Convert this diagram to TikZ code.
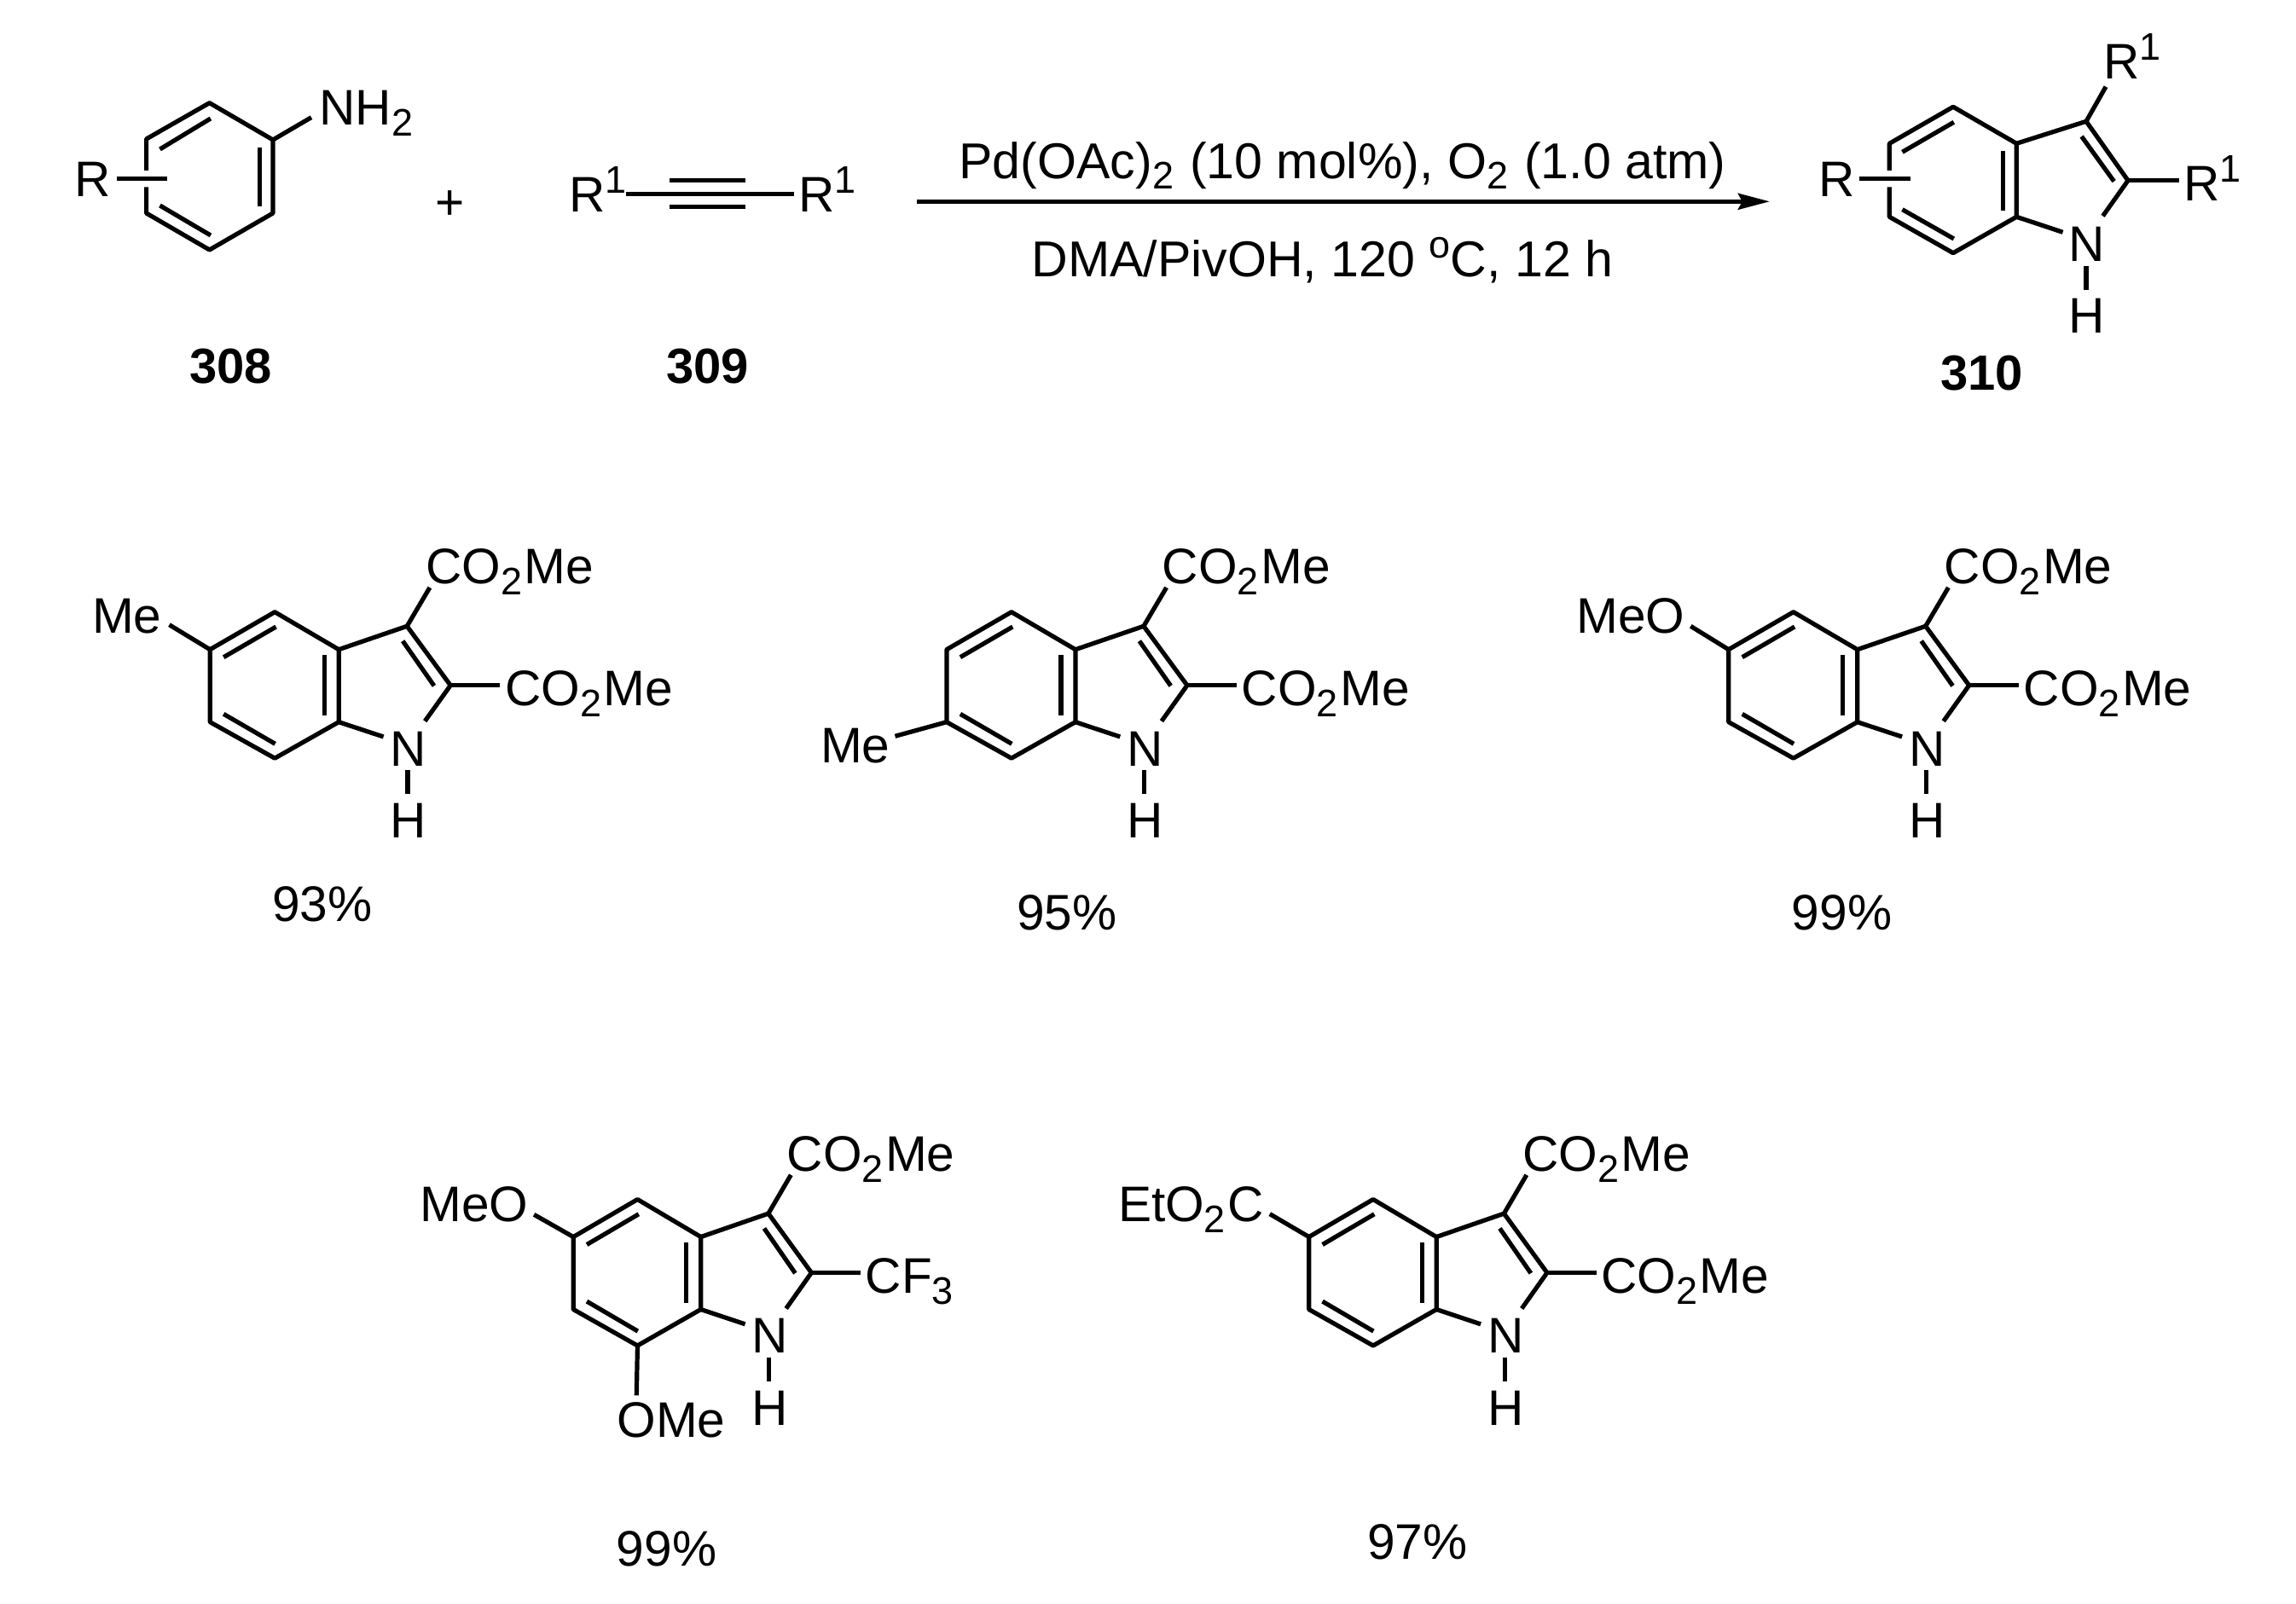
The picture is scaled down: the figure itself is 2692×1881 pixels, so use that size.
\documentclass[tikz,border=0pt]{standalone}
\usepackage{fontspec}
\setmainfont[Kerning=Off]{Liberation Sans}
\usetikzlibrary{arrows.meta}
\newcommand{\sbs}[1]{\raisebox{-13pt}{\fontsize{45}{45}\selectfont #1}\kern2.5pt\relax}
\newcommand{\sps}[1]{\raisebox{21.7pt}{\fontsize{45}{45}\selectfont #1}}
\newcommand{\cotwo}{CO\sbs{2}Me}
\tikzset{
  bond/.style={line width=5.2pt,line join=round,line cap=butt,black},
  lab/.style={inner sep=0pt,outer sep=0pt,anchor=base west,font=\fontsize{58.6}{70}\selectfont,text=black},
  condlab/.style={inner sep=0pt,outer sep=0pt,anchor=base west,font=\fontsize{59.1}{70}\selectfont,text=black},
  cmpd/.style={inner sep=0pt,outer sep=0pt,anchor=base,font=\fontsize{58}{70}\selectfont\bfseries,text=black},
  yield/.style={inner sep=0pt,outer sep=0pt,anchor=base,font=\fontsize{58.6}{70}\selectfont,text=black}
}
% #1 prefix, #2 dx, #3 dy, #4 xscale, #5 yscale, #6 group at C2
\newcommand{\indole}[6]{%
\begin{scope}[name prefix=#1-,shift={(#2,#3)},xscale=#4,yscale=#5]
  \coordinate (C3a) at (0,0);
  \coordinate (C7a) at (0,85);
  \coordinate (C4) at (-75,-44);
  \coordinate (C5) at (-151,0);
  \coordinate (C6) at (-151,85);
  \coordinate (C7) at (-75,127.5);
  \coordinate (C3) at (80,-27.4);
  \coordinate (C2) at (131,42);
  \coordinate (Na) at (52.4,102.3);
  \coordinate (Nb) at (101,84);
  \coordinate (Hu) at (80.8,141.3);
  \coordinate (Hd) at (80.8,169.3);
  \coordinate (E3) at (106.7,-72.7);
  \coordinate (E2) at (189.2,42);
  \coordinate (i1a) at (-135,9);   \coordinate (i1b) at (-73.6,-26.7);
  \coordinate (i2a) at (-17,6.6);  \coordinate (i2b) at (-17,77.6);
  \coordinate (i3a) at (-135,75.6);\coordinate (i3b) at (-74.6,110.6);
  \coordinate (i4a) at (75,-10);   \coordinate (i4b) at (111.8,42.6);
  \node[lab] (N) at (60.6,136.3) {N};
  \node[lab] (H) at (60.6,220.6) {H};
  \node[lab] (G3) at (102,-77.4) {\cotwo};
  \node[lab] (G2) at (195,66) {#6};
  \draw[bond] (C3a)--(C4)--(C5)--(C6)--(C7)--(C7a)--cycle;
  \draw[bond] (C3a)--(C3)--(C2)--(Nb);
  \draw[bond] (C7a)--(Na);
  \draw[bond] (Hu)--(Hd);
  \draw[bond] (C3)--(E3);
  \draw[bond] (C2)--(E2);
  \draw[bond] (i1a)--(i1b);
  \draw[bond] (i2a)--(i2b);
  \draw[bond] (i3a)--(i3b);
  \draw[bond] (i4a)--(i4b);
\end{scope}}
\begin{document}
\begin{tikzpicture}[x=1pt,y=-1pt]
\fill[white] (0,0) rectangle (2692,1881);
\useasboundingbox (0,0) rectangle (2692,1881);

% aniline 308
\coordinate (a1) at (245.6,120.7);
\coordinate (a2) at (320,164);
\coordinate (a3) at (320,250);
\coordinate (a4) at (245.6,293);
\coordinate (a5) at (171.6,250);
\coordinate (a6) at (171.6,163);
\coordinate (a5g) at (171.6,219.3);
\coordinate (a6g) at (171.6,200);
\coordinate (aNe) at (365,137.7);
\coordinate (aRa) at (136.5,209.3);
\coordinate (aRb) at (196,209.3);
\coordinate (ai1a) at (187.5,175);  \coordinate (ai1b) at (246.9,139);
\coordinate (ai2a) at (304.3,172.7);\coordinate (ai2b) at (304.3,242.3);
\coordinate (ai3a) at (187.5,241);  \coordinate (ai3b) at (247,276);
\draw[bond] (a6g)--(a6)--(a1)--(a2)--(a3)--(a4)--(a5)--(a5g);
\draw[bond] (a2)--(aNe);
\draw[bond] (aRa)--(aRb);
\draw[bond] (ai1a)--(ai1b);
\draw[bond] (ai2a)--(ai2b);
\draw[bond] (ai3a)--(ai3b);
\node[lab] (aNH) at (374.5,146.7) {NH\sbs{2}};
\node[lab] (aR) at (87.4,230) {R};
\node[cmpd] (c308) at (270.5,449) {308};
\node[yield] (plus) at (527.5,257) {+};

% alkyne 309
\node[lab] (bRl) at (667.4,248.3) {R\sps{1}};
\node[lab] (bRr) at (936.1,248.3) {R\sps{1}};
\coordinate (b1) at (733.5,227.3);
\coordinate (b2) at (931,227.3);
\coordinate (bu1) at (784.5,211.7);
\coordinate (bu2) at (873.8,211.7);
\coordinate (bd1) at (784.5,242.3);
\coordinate (bd2) at (873.8,242.3);
\draw[bond] (b1)--(b2);
\draw[bond] (bu1)--(bu2);
\draw[bond] (bd1)--(bd2);
\node[cmpd] (c309) at (829.5,449) {309};

% reaction arrow
\coordinate (ars) at (1075.4,236.3);
\coordinate (are) at (2074.8,236.3);
\draw[line width=4.7pt,black,-{Stealth[length=37pt,width=19pt,inset=5pt]}] (ars)--(are);
\node[condlab] (cond1) at (1124.5,209) {Pd(OAc)\sbs{2} (10 mol\%), O\sbs{2} (1.0 atm)};
\node[condlab] (cond2) at (1209.4,324.3) {DMA/PivOH, 120 \sps{o}C, 12 h};

% product 310
\coordinate (p4) at (2290,125.3);
\coordinate (p5) at (2215.3,168.3);
\coordinate (p6) at (2215.3,254.3);
\coordinate (p7) at (2290,296.7);
\coordinate (p7a) at (2364.3,254.3);
\coordinate (p3a) at (2364.3,168.3);
\coordinate (p3) at (2446,142.3);
\coordinate (p2) at (2495,211.7);
\coordinate (p3e) at (2469,101.7);
\coordinate (p2e) at (2555.3,211.7);
\coordinate (pNa) at (2418.6,272.3);
\coordinate (pNb) at (2465.5,253.3);
\coordinate (pHu) at (2446,312.3);
\coordinate (pHd) at (2446,340);
\coordinate (pg1) at (2215.3,200);
\coordinate (pg2) at (2215.3,219.3);
\coordinate (pRa) at (2179.8,209.3);
\coordinate (pRb) at (2239.8,209.3);
\coordinate (pi1a) at (2230.4,178.3);\coordinate (pi1b) at (2290.8,143.3);
\coordinate (pi2a) at (2348.8,176.7);\coordinate (pi2b) at (2348.8,246.7);
\coordinate (pi3a) at (2230.4,245.7);\coordinate (pi3b) at (2290.8,280);
\coordinate (pi4a) at (2440.6,160);  \coordinate (pi4b) at (2478.6,212.7);
\draw[bond] (pg1)--(p5)--(p4)--(p3a)--(p7a)--(p7)--(p6)--(pg2);
\draw[bond] (p3a)--(p3)--(p2)--(pNb);
\draw[bond] (p7a)--(pNa);
\draw[bond] (pHu)--(pHd);
\draw[bond] (p3)--(p3e);
\draw[bond] (p2)--(p2e);
\draw[bond] (pRa)--(pRb);
\draw[bond] (pi1a)--(pi1b);
\draw[bond] (pi2a)--(pi2b);
\draw[bond] (pi3a)--(pi3b);
\draw[bond] (pi4a)--(pi4b);
\node[lab] (pR) at (2132,230) {R};
\node[lab] (pR3) at (2466,92.3) {R\sps{1}};
\node[lab] (pR2) at (2560,235) {R\sps{1}};
\node[lab] (pN) at (2425.5,306) {N};
\node[lab] (pH) at (2425.5,390) {H};
\node[cmpd] (c310) at (2323.4,457.3) {310};

% row 2
\indole{m}{397.2}{761.7}{1}{1}{\cotwo}
\coordinate (mMeE) at (198.5,732.7);
\draw[bond] (m-C5)--(mMeE);
\node[lab] (mMe) at (108,742.3) {Me};
\node[yield] (y1) at (378,1080.7) {93\%};

\indole{n}{1260.9}{761.7}{1}{1}{\cotwo}
\coordinate (nMeE) at (1049.5,863.3);
\draw[bond] (n-C6)--(nMeE);
\node[lab] (nMe) at (962,894) {Me};
\node[yield] (y2) at (1250.7,1090) {95\%};

\indole{o}{2177.7}{761.7}{1}{1}{\cotwo}
\coordinate (oOE) at (1982.3,734.3);
\draw[bond] (o-C5)--(oOE);
\node[lab] (oO) at (1848.2,742.3) {MeO};
\node[yield] (y3) at (2159.5,1090) {99\%};

% row 3
\indole{q}{821.7}{1450.5}{.99}{1}{CF\sbs{3}}
\coordinate (qOE) at (626.1,1424.3);
\coordinate (qOB) at (746.3,1636.4);
\draw[bond] (q-C5)--(qOE);
\draw[bond] (q-C7)--(qOB);
\node[lab] (qO) at (492.5,1432.2) {MeO};
\node[lab] (qO2) at (723.4,1685.3) {OMe};
\node[yield] (y4) at (781.6,1836.9) {99\%};

\indole{s}{1684.2}{1450.5}{.99}{1}{\cotwo}
\coordinate (sE) at (1488.8,1423.6);
\draw[bond] (s-C5)--(sE);
\node[lab] (sEt) at (1311,1432.2) {EtO\sbs{2}C};
\node[yield] (y5) at (1662,1828.2) {97\%};
\end{tikzpicture}
\end{document}
